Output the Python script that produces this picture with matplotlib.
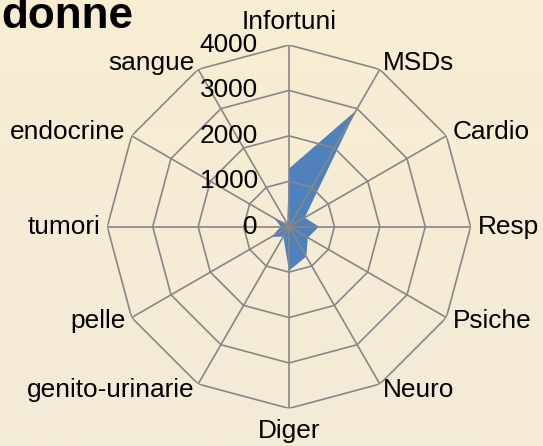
import numpy as np
import matplotlib
matplotlib.use("Agg")
import matplotlib.pyplot as plt
from matplotlib.colors import LinearSegmentedColormap

categories = ["Infortuni", "MSDs", "Cardio", "Resp", "Psiche", "Neuro", "Diger",
              "genito-urinarie", "pelle", "tumori", "endocrine", "sangue"]
values = [1280, 2950, 400, 660, 480, 760, 970, 250, 450, 180, 380, 80]
ring_values = [1000, 2000, 3000, 4000]
ring_labels = ["0", "1000", "2000", "3000", "4000"]
title_text = "donne"

plt.rcParams['font.family'] = ['Liberation Sans', 'DejaVu Sans']

W, H = 543, 446
fig = plt.figure(figsize=(W / 100, H / 100), dpi=100)

# background gradient
bg = fig.add_axes([0, 0, 1, 1], zorder=-10)
cmap = LinearSegmentedColormap.from_list("bg", ["#F3EBD9", "#F9EDD2"])
bg.imshow(np.linspace(0, 1, 256).reshape(-1, 1), aspect='auto', cmap=cmap,
          origin='lower', extent=[0, 1, 0, 1])
bg.set_axis_off()

cx, cy, R = 289.0, 226.7, 181.7
ax = fig.add_axes([(cx - R) / W, (H - cy - R) / H, 2 * R / W, 2 * R / H],
                  projection='polar')
ax.set_facecolor('none')
ax.set_theta_zero_location('N')
ax.set_theta_direction(-1)
rmax = ring_values[-1]
ax.set_ylim(0, rmax)
ax.spines['polar'].set_visible(False)
ax.grid(False)
ax.set_xticks([])
ax.set_yticks([])

n = len(categories)
theta = np.arange(n) * 2 * np.pi / n
tc = np.append(theta, theta[0])

gcol = '#878787'
for rv in ring_values:
    ax.plot(tc, [rv] * (n + 1), color=gcol, lw=1.2, zorder=3, solid_joinstyle='miter')
for t in theta:
    ax.plot([t, t], [0, rmax], color=gcol, lw=1.2, zorder=3)

vc = values + [values[0]]
ax.fill(tc, vc, color='#4F81BD', lw=0, zorder=2)

fs = 18.9
# radial labels
for rv, lab in zip([0] + ring_values, ring_labels):
    ax.annotate(lab, xy=(0, rv), xytext=(-31, 0), textcoords='offset pixels',
                ha='right', va='center', fontsize=fs, zorder=5)

# category labels
for t, lab in zip(theta, categories):
    s, c = np.sin(t), np.cos(t)
    if abs(s) < 0.1:
        ha = 'center'
        dx, dy = 0, 23 * np.sign(c)
    else:
        ha = 'left' if s > 0 else 'right'
        dx, dy = 7 * s, 7 * c
    ax.annotate(lab, xy=(t, rmax), xytext=(dx, dy), textcoords='offset pixels',
                ha=ha, va='center', fontsize=fs, annotation_clip=False)

fig.text(133 / W, (H - 28.3) / H, title_text, ha='right', va='baseline',
         fontsize=31.7, fontweight='bold')

fig.savefig('out.png', dpi=100)
